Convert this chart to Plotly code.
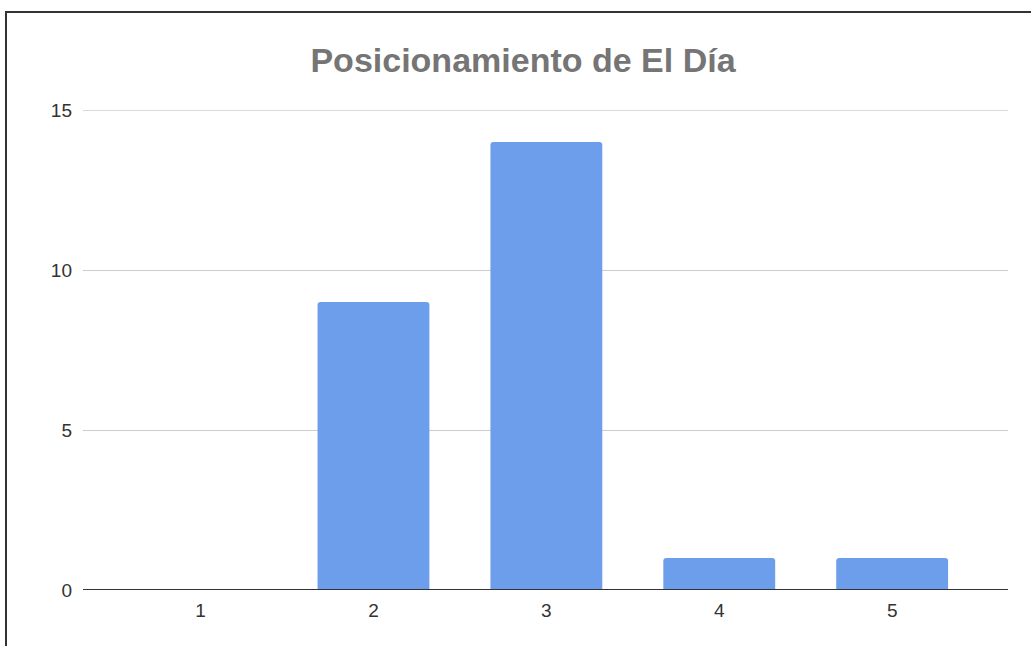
import plotly.graph_objects as go

categories = [1, 2, 3, 4, 5]
values = [0, 9, 14, 1, 1]
y_ticks = [0, 5, 10, 15]
title_text = "Posicionamiento de El Día"

W, H = 1031, 646
L, R, T, B = 83, 23, 110, 56
pw = W - L - R
ph = H - T - B

def px_x(p):
    return (p - L) / pw

def px_y(p):
    return (H - B - p) / ph

fig = go.Figure(
    go.Bar(
        x=categories,
        y=values,
        width=0.647,
        marker=dict(color="#6d9eeb", cornerradius=3, line=dict(width=0)),
        hoverinfo="x+y",
    )
)

fig.update_layout(
    width=W,
    height=H,
    margin=dict(l=L, r=R, t=T, b=B, pad=0),
    paper_bgcolor="white",
    plot_bgcolor="white",
    font=dict(family="Liberation Sans, Arial, sans-serif", color="#444444"),
    title=dict(
        text=title_text,
        xref="container",
        x=523 / W,
        xanchor="center",
        yref="container",
        y=1 - 60 / H,
        yanchor="middle",
        font=dict(size=34, color="#757575", family="Liberation Sans, Arial, sans-serif", weight="bold"),
    ),
    showlegend=False,
)

fig.update_xaxes(
    range=[0.32, 5.67],
    tickvals=categories,
    ticktext=[str(c) for c in categories],
    showgrid=False,
    zeroline=False,
    showline=False,
    ticks="",
    ticklabelstandoff=7,
    tickfont=dict(size=19, color="#333333"),
    fixedrange=True,
)

fig.update_yaxes(
    range=[0, 15],
    tickvals=y_ticks,
    showgrid=True,
    gridcolor="#cccccc",
    gridwidth=1,
    zeroline=False,
    showline=False,
    ticks="",
    ticklabelstandoff=10,
    tickfont=dict(size=19, color="#333333"),
    fixedrange=True,
)

# top gridline at 15 (edge of plot area)
fig.add_shape(type="line", xref="paper", yref="y", x0=0, x1=1, y0=y_ticks[-1], y1=y_ticks[-1],
              line=dict(color="#cccccc", width=1.5), layer="below")

# baseline axis line at 0
fig.add_shape(type="line", xref="paper", yref="y", x0=0, x1=1, y0=0, y1=0,
              line=dict(color="#333333", width=2), layer="above")

# outer frame (left and top edges)
fig.add_shape(type="line", xref="paper", yref="paper",
              x0=px_x(6), x1=px_x(6), y0=px_y(660), y1=px_y(12),
              line=dict(color="#333333", width=2))
fig.add_shape(type="line", xref="paper", yref="paper",
              x0=px_x(5), x1=px_x(1040), y0=px_y(12), y1=px_y(12),
              line=dict(color="#333333", width=2))

fig.write_html("out.html")
